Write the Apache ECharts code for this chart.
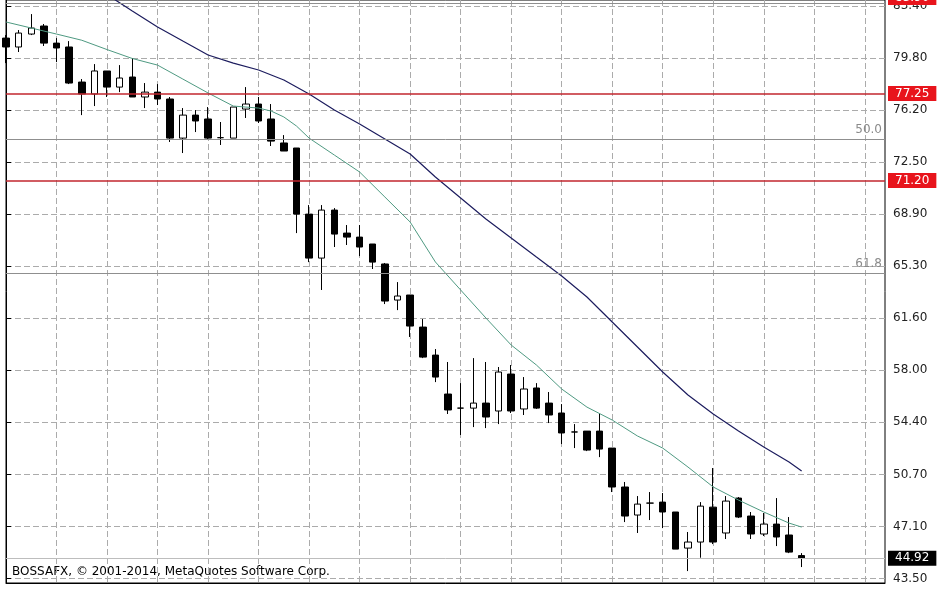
<!DOCTYPE html>
<html>
<head>
<meta charset="utf-8">
<script src="https://cdn.jsdelivr.net/npm/echarts@6/dist/echarts.min.js"></script>
<style>
html, body { margin: 0; padding: 0; background: #fff; }
#chart { width: 948px; height: 593px; }
</style>
</head>
<body>
<div id="chart"></div>
<script>
// daily candles, [open, close, low, high], x = candle index
const candles = [
  [81.11, 80.49, 79.37, 81.32], [80.49, 81.46, 80.14, 81.67], [81.39, 81.81, 81.32, 82.78],
  [81.95, 80.76, 80.56, 82.09], [80.76, 80.42, 79.44, 81.11], [80.49, 77.98, 77.91, 80.90],
  [78.05, 77.22, 75.75, 78.26], [77.22, 78.82, 76.38, 79.30], [78.82, 77.70, 77.01, 78.82],
  [77.70, 78.33, 77.35, 79.23], [78.40, 77.01, 77.01, 79.72], [77.01, 77.35, 76.24, 77.98],
  [77.35, 76.87, 76.45, 77.91], [76.87, 74.15, 73.88, 77.01], [74.15, 75.75, 73.11, 76.24],
  [75.75, 75.34, 74.57, 76.10], [75.48, 74.15, 74.08, 76.31], [74.18, 74.18, 73.67, 75.27],
  [74.15, 76.31, 74.15, 76.31], [76.17, 76.52, 75.55, 77.70], [76.52, 75.34, 75.20, 77.01],
  [75.48, 73.94, 73.60, 76.52], [73.81, 73.25, 73.25, 74.36], [73.46, 68.86, 67.54, 73.46],
  [68.86, 65.80, 65.52, 69.49], [65.80, 69.14, 63.58, 69.49], [69.14, 67.47, 66.57, 69.28],
  [67.54, 67.26, 66.71, 68.10], [67.26, 66.57, 65.94, 68.10], [66.78, 65.52, 65.04, 66.78],
  [65.39, 62.81, 62.60, 65.46], [62.88, 63.16, 62.18, 64.13], [63.23, 61.07, 60.31, 63.23],
  [61.00, 58.91, 58.84, 61.56], [59.05, 57.52, 57.17, 59.47], [56.34, 55.23, 54.95, 58.57],
  [55.36, 55.36, 53.49, 57.10], [55.36, 55.71, 54.04, 58.84], [55.71, 54.74, 53.97, 58.57],
  [55.16, 57.87, 54.25, 58.22], [57.73, 55.16, 55.02, 58.36], [55.30, 56.69, 54.88, 57.52],
  [56.76, 55.36, 55.30, 57.10], [55.71, 54.88, 54.32, 56.48], [55.02, 53.63, 52.86, 55.64],
  [53.70, 53.70, 52.58, 54.25], [53.76, 52.44, 52.37, 53.76], [53.76, 52.51, 51.95, 55.02],
  [52.58, 49.87, 49.52, 52.58], [49.87, 47.85, 47.43, 50.22], [47.92, 48.68, 46.67, 49.24],
  [48.75, 48.75, 47.57, 49.52], [48.82, 48.13, 47.01, 49.45], [48.13, 45.55, 45.55, 48.13],
  [45.62, 46.04, 44.02, 46.74], [46.04, 48.54, 44.95, 48.82], [48.47, 46.04, 45.90, 51.19],
  [46.67, 48.89, 46.25, 49.24], [49.10, 47.78, 47.71, 49.17], [47.85, 46.60, 46.25, 48.13],
  [46.60, 47.29, 46.46, 48.06], [47.29, 46.39, 45.76, 49.10], [46.53, 45.34, 45.27, 47.78],
  [45.10, 44.92, 44.30, 45.27]
];

// short moving average (green line), read at these candle indexes
const fastIdx = [0, 2, 4, 6, 8, 10, 12, 14, 16, 18, 20, 21, 22, 23, 24, 26, 28, 30, 32, 34, 36, 38, 40, 42, 44, 46, 48, 50, 52, 54, 56, 58, 60, 62, 63];
const fastVal = [82.23, 81.81, 81.39, 80.96, 80.31, 79.69, 79.23, 78.26, 77.29, 76.38, 76.24, 76.03, 75.62, 74.99, 74.15, 72.97, 71.79, 70.05, 68.31, 65.53, 63.58, 61.63, 59.75, 58.36, 56.69, 55.43, 54.53, 53.42, 52.58, 51.26, 49.87, 48.96, 48.13, 47.36, 47.08];

// long moving average (dark blue line)
const slowIdx = [6, 8, 10, 12, 14, 16, 18, 20, 22, 24, 26, 28, 30, 32, 34, 36, 38, 40, 42, 44, 46, 48, 50, 52, 54, 56, 58, 60, 62, 63];
const slowVal = [85.22, 84.14, 82.99, 81.88, 80.90, 79.93, 79.37, 78.89, 78.19, 77.22, 76.10, 75.13, 74.08, 73.04, 71.44, 69.98, 68.52, 67.20, 65.87, 64.55, 63.09, 61.35, 59.61, 57.87, 56.27, 54.95, 53.76, 52.65, 51.61, 50.98];

// price scale labels (bottom to top)
const tickLabels = ['43.50', '47.10', '50.70', '54.40', '58.00', '61.60', '65.30', '68.90', '72.50', '76.20', '79.80', '83.40'];

const redLevels = [77.25, 71.20];
const topRedLabel = '83.90';   // level just above the visible area, only its tag shows
const fibLevels = [83.55, 74.08, 64.76];
const fibNames = ['', '50.0', '61.8'];
const lastPrice = 44.92;

const fontFamily = 'DejaVu Sans';
const gridDash = [6, 3];
const gridColor = '#ababab';

const candleData = candles.map((c, i) => [i].concat(c));
const fastData = fastIdx.map((x, i) => [x, fastVal[i]]);
const slowData = slowIdx.map((x, i) => [x, slowVal[i]]);

const levelLines = [];
redLevels.forEach(v => {
  levelLines.push({
    yAxis: v,
    lineStyle: { color: '#c2262e', width: 1.5, type: 'solid' },
    label: {
      show: true, position: 'end', distance: 3, formatter: v.toFixed(2),
      backgroundColor: '#e8141c', color: '#fff', padding: [2, 7, 1, 7],
      fontFamily: fontFamily, fontSize: 12
    }
  });
});
fibLevels.forEach((v, i) => {
  levelLines.push({
    yAxis: v,
    lineStyle: { color: '#8f8f8f', width: 1, type: 'solid' },
    label: {
      show: fibNames[i] !== '', position: 'insideEndTop', distance: 3,
      formatter: fibNames[i], color: '#8a8a8a', fontFamily: fontFamily, fontSize: 12
    }
  });
});
levelLines.push({
  yAxis: lastPrice,
  lineStyle: { color: '#bdbdbd', width: 1, type: 'solid' },
  label: {
    show: true, position: 'end', distance: 3, formatter: lastPrice.toFixed(2),
    backgroundColor: '#000', color: '#fff', padding: [2, 7, 1, 7],
    fontFamily: fontFamily, fontSize: 12
  }
});

const chart = echarts.init(document.getElementById('chart'));

const option = {
  animation: false,
  backgroundColor: '#fff',
  grid: [
    { left: 6, right: 63, top: 0, bottom: 10, show: true, borderColor: '#000', borderWidth: 1, backgroundColor: '#fff' },
    { left: 6, right: 63, top: 5.1, bottom: 14.5 }
  ],
  xAxis: [
    {
      type: 'value', gridIndex: 0, min: 0, max: 69.6, interval: 4,
      axisLine: { show: true, onZero: false, lineStyle: { color: '#000' } },
      axisTick: { show: false }, axisLabel: { show: false },
      splitLine: { show: true, showMinLine: false, showMaxLine: false, lineStyle: { color: gridColor, type: gridDash } }
    },
    {
      type: 'value', gridIndex: 0, min: 0, max: 69.6, interval: 8,
      axisLine: { show: false, onZero: false },
      axisTick: { show: true, length: 8, lineStyle: { color: '#000' } },
      axisLabel: { show: false }, splitLine: { show: false }
    },
    { type: 'value', gridIndex: 1, show: false, min: 0, max: 1 }
  ],
  yAxis: [
    {
      type: 'value', gridIndex: 0, position: 'right', min: 43.19, max: 83.76,
      axisLine: { show: true, lineStyle: { color: '#000' } },
      axisTick: { show: false }, axisLabel: { show: false }, splitLine: { show: false }
    },
    {
      type: 'value', gridIndex: 1, position: 'right', min: 0, max: 11, interval: 1,
      axisLine: { show: false },
      axisTick: { show: true, length: 5, lineStyle: { color: '#000' } },
      axisLabel: {
        margin: 8, color: '#222', fontFamily: fontFamily, fontSize: 12,
        formatter: v => tickLabels[Math.round(v)]
      },
      splitLine: { show: true, lineStyle: { color: gridColor, type: gridDash } }
    }
  ],
  graphic: [
    {
      type: 'text', left: 12, top: 566,
      style: { text: 'BOSSAFX, © 2001-2014, MetaQuotes Software Corp.', fill: '#000', font: '12px "DejaVu Sans"' }
    },
    {
      type: 'text', left: 888, top: -10, z: 10,
      style: {
        text: topRedLabel, fill: '#fff', font: '12px "DejaVu Sans"',
        backgroundColor: '#e8141c', padding: [2, 7, 1, 7]
      }
    }
  ],
  series: [
    {
      type: 'candlestick', xAxisIndex: 0, yAxisIndex: 0,
      data: candleData, barWidth: 7,
      itemStyle: { color: '#fff', color0: '#000', borderColor: '#000', borderColor0: '#000', borderWidth: 1 },
      markLine: { silent: true, symbol: ['none', 'none'], animation: false, data: levelLines }
    },
    {
      type: 'line', xAxisIndex: 0, yAxisIndex: 0, data: fastData,
      showSymbol: false, lineStyle: { color: '#4f9a82', width: 1 }, z: 3
    },
    {
      type: 'line', xAxisIndex: 0, yAxisIndex: 0, data: slowData,
      showSymbol: false, lineStyle: { color: '#1c1c5e', width: 1.2 }, z: 3
    }
  ]
};

chart.setOption(option);
</script>
</body>
</html>
